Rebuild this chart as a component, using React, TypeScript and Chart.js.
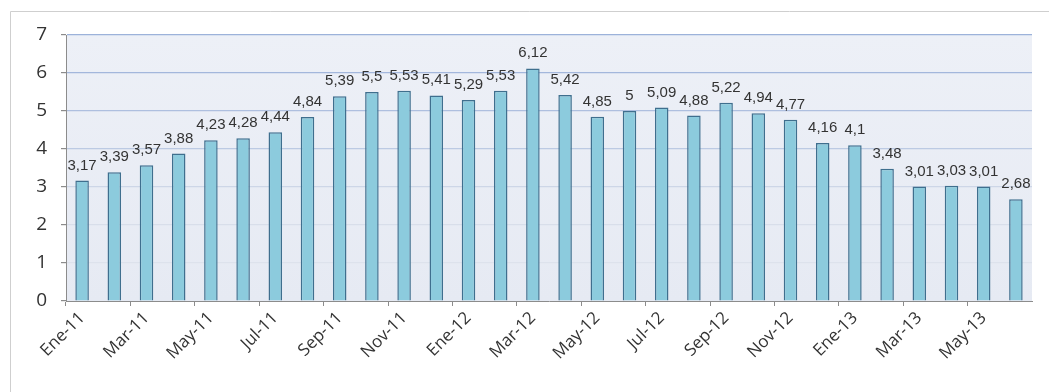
import React, { useEffect, useRef } from "react";
import { Chart, registerables } from "chart.js";

Chart.register(...registerables);

// Monthly series, Ene-11 .. Jun-13
const months: string[] = [
  "Ene-11", "Feb-11", "Mar-11", "Abr-11", "May-11", "Jun-11",
  "Jul-11", "Ago-11", "Sep-11", "Oct-11", "Nov-11", "Dic-11",
  "Ene-12", "Feb-12", "Mar-12", "Abr-12", "May-12", "Jun-12",
  "Jul-12", "Ago-12", "Sep-12", "Oct-12", "Nov-12", "Dic-12",
  "Ene-13", "Feb-13", "Mar-13", "Abr-13", "May-13", "Jun-13",
];

const values: number[] = [
  3.17, 3.39, 3.57, 3.88, 4.23, 4.28, 4.44, 4.84, 5.39, 5.5, 5.53, 5.41,
  5.29, 5.53, 6.12, 5.42, 4.85, 5, 5.09, 4.88, 5.22, 4.94, 4.77, 4.16,
  4.1, 3.48, 3.01, 3.03, 3.01, 2.68,
];

const yMin = 0;
const yMax = 7;
const yStep = 1;

// horizontal gridline tints, from value 0 up to 7
const gridTints: string[] = [
  "rgba(0,0,0,0)", "#dde2ec", "#d8deea", "#cdd6e7", "#bccae3", "#aebfdf", "#a3b7dc", "#9cb2da",
];

const fmt = (v: number) => String(v).replace(".", ",");

const framePlugin = {
  id: "frameAndBackdrop",
  beforeDraw(chart: any) {
    const { ctx, chartArea, width, height } = chart;
    ctx.save();
    ctx.fillStyle = "#ffffff";
    ctx.fillRect(0, 0, width, height);
    // outer frame
    ctx.strokeStyle = "#cfcfcf";
    ctx.lineWidth = 1;
    ctx.beginPath();
    ctx.moveTo(10.5, height);
    ctx.lineTo(10.5, 11.5);
    ctx.lineTo(width, 11.5);
    ctx.stroke();
    // plot backdrop
    const g = ctx.createLinearGradient(0, chartArea.top, 0, chartArea.bottom);
    g.addColorStop(0, "#edf0f7");
    g.addColorStop(1, "#e6eaf3");
    ctx.fillStyle = g;
    ctx.fillRect(chartArea.left, chartArea.top, chartArea.right - chartArea.left, chartArea.bottom - chartArea.top);
    ctx.restore();
  },
};

const valueLabels = {
  id: "valueLabels",
  afterDatasetsDraw(chart: any) {
    const { ctx } = chart;
    const meta = chart.getDatasetMeta(0);
    ctx.save();
    ctx.font = "15px 'Liberation Sans', Arial, sans-serif";
    ctx.fillStyle = "#333333";
    ctx.textAlign = "center";
    ctx.textBaseline = "alphabetic";
    meta.data.forEach((bar: any, i: number) => {
      ctx.fillText(fmt(values[i]), bar.x, bar.y - 11);
    });
    ctx.restore();
  },
};

export default function App() {
  const ref = useRef<HTMLCanvasElement | null>(null);

  useEffect(() => {
    document.body.style.margin = "0";
    if (!ref.current) return;
    const chart = new Chart(ref.current, {
      type: "bar",
      data: {
        labels: months,
        datasets: [
          {
            data: values,
            backgroundColor: "#8ccbdd",
            borderColor: "#3f6f8e",
            borderWidth: 1.5,
            barPercentage: 0.42,
            categoryPercentage: 1,
          },
        ],
      },
      options: {
        animation: false,
        responsive: false,
        maintainAspectRatio: false,
        layout: { padding: { left: 10, right: 17, top: 35, bottom: 0 } },
        plugins: {
          legend: { display: false },
          tooltip: { enabled: false },
        },
        scales: {
          x: {
            offset: true,
            grid: {
              offset: true,
              drawOnChartArea: false,
              drawTicks: true,
              tickLength: 5,
              color: (c: any) => (c.index % 2 === 0 ? "#8c8c8c" : "rgba(0,0,0,0)"),
            },
            border: { display: true, color: "#8c8c8c" },
            ticks: {
              autoSkip: false,
              minRotation: 45,
              maxRotation: 45,
              padding: 2,
              color: "#333333",
              font: { family: "'Open Sans', 'Noto Sans', sans-serif", size: 17 },
              callback: (_v: any, i: number) => (i % 2 === 0 ? months[i] : ""),
            },
            afterFit: (s: any) => {
              s.height = 91;
            },
          },
          y: {
            min: yMin,
            max: yMax,
            ticks: {
              stepSize: yStep,
              padding: 14,
              color: "#333333",
              font: { family: "'Open Sans', 'Noto Sans', sans-serif", size: 19 },
            },
            grid: {
              drawTicks: true,
              tickLength: 5,
              color: (c: any) => gridTints[c.index] ?? "#cccccc",
              tickColor: "#8c8c8c",
              lineWidth: 1.2,
            },
            border: { display: true, color: "#8c8c8c" },
            afterFit: (s: any) => {
              s.width = 56;
            },
          },
        },
      },
      plugins: [framePlugin, valueLabels],
    });
    return () => chart.destroy();
  }, []);

  return <canvas ref={ref} width={1049} height={392} style={{ display: "block" }} />;
}
